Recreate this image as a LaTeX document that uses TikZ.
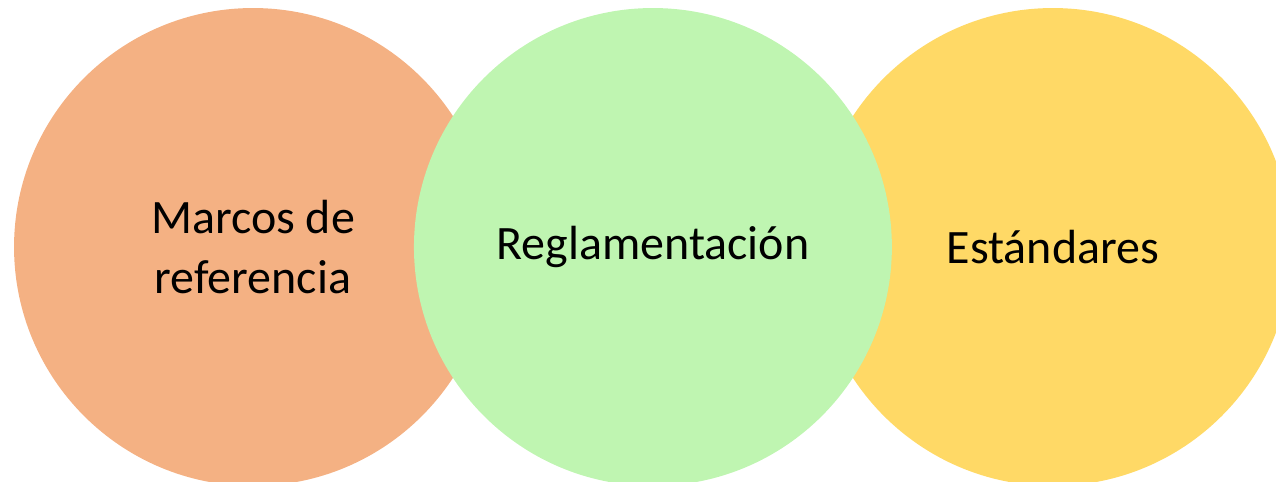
\documentclass[tikz,border=0pt]{standalone}
\usepackage{fontspec}
\setmainfont{Carlito}
\definecolor{naranja}{RGB}{244,177,131}
\definecolor{verde}{RGB}{191,245,177}
\definecolor{amarillo}{RGB}{255,217,102}
\begin{document}
\begin{tikzpicture}[x=0.02cm, y=-0.02cm, node distance = 8cm,
        circulo/.style = {circle, minimum size = 9.56cm, inner sep = 0pt, align = center,
            font = \fontsize{27.3}{34.5}\selectfont}]
        \useasboundingbox (0,0) rectangle (1276,482);
        \clip (0,0) rectangle (1276,482);
        \node (marcos) [circulo, fill = naranja] at (253,247) {Marcos de\\referencia};
        \node (estandares) [circulo, fill = amarillo, right of = marcos, node distance = 16cm] {Estándares};
        \node (reglamentacion) [circulo, fill = verde, right of = marcos] {Reglamentación};
    \end{tikzpicture}
\end{document}
